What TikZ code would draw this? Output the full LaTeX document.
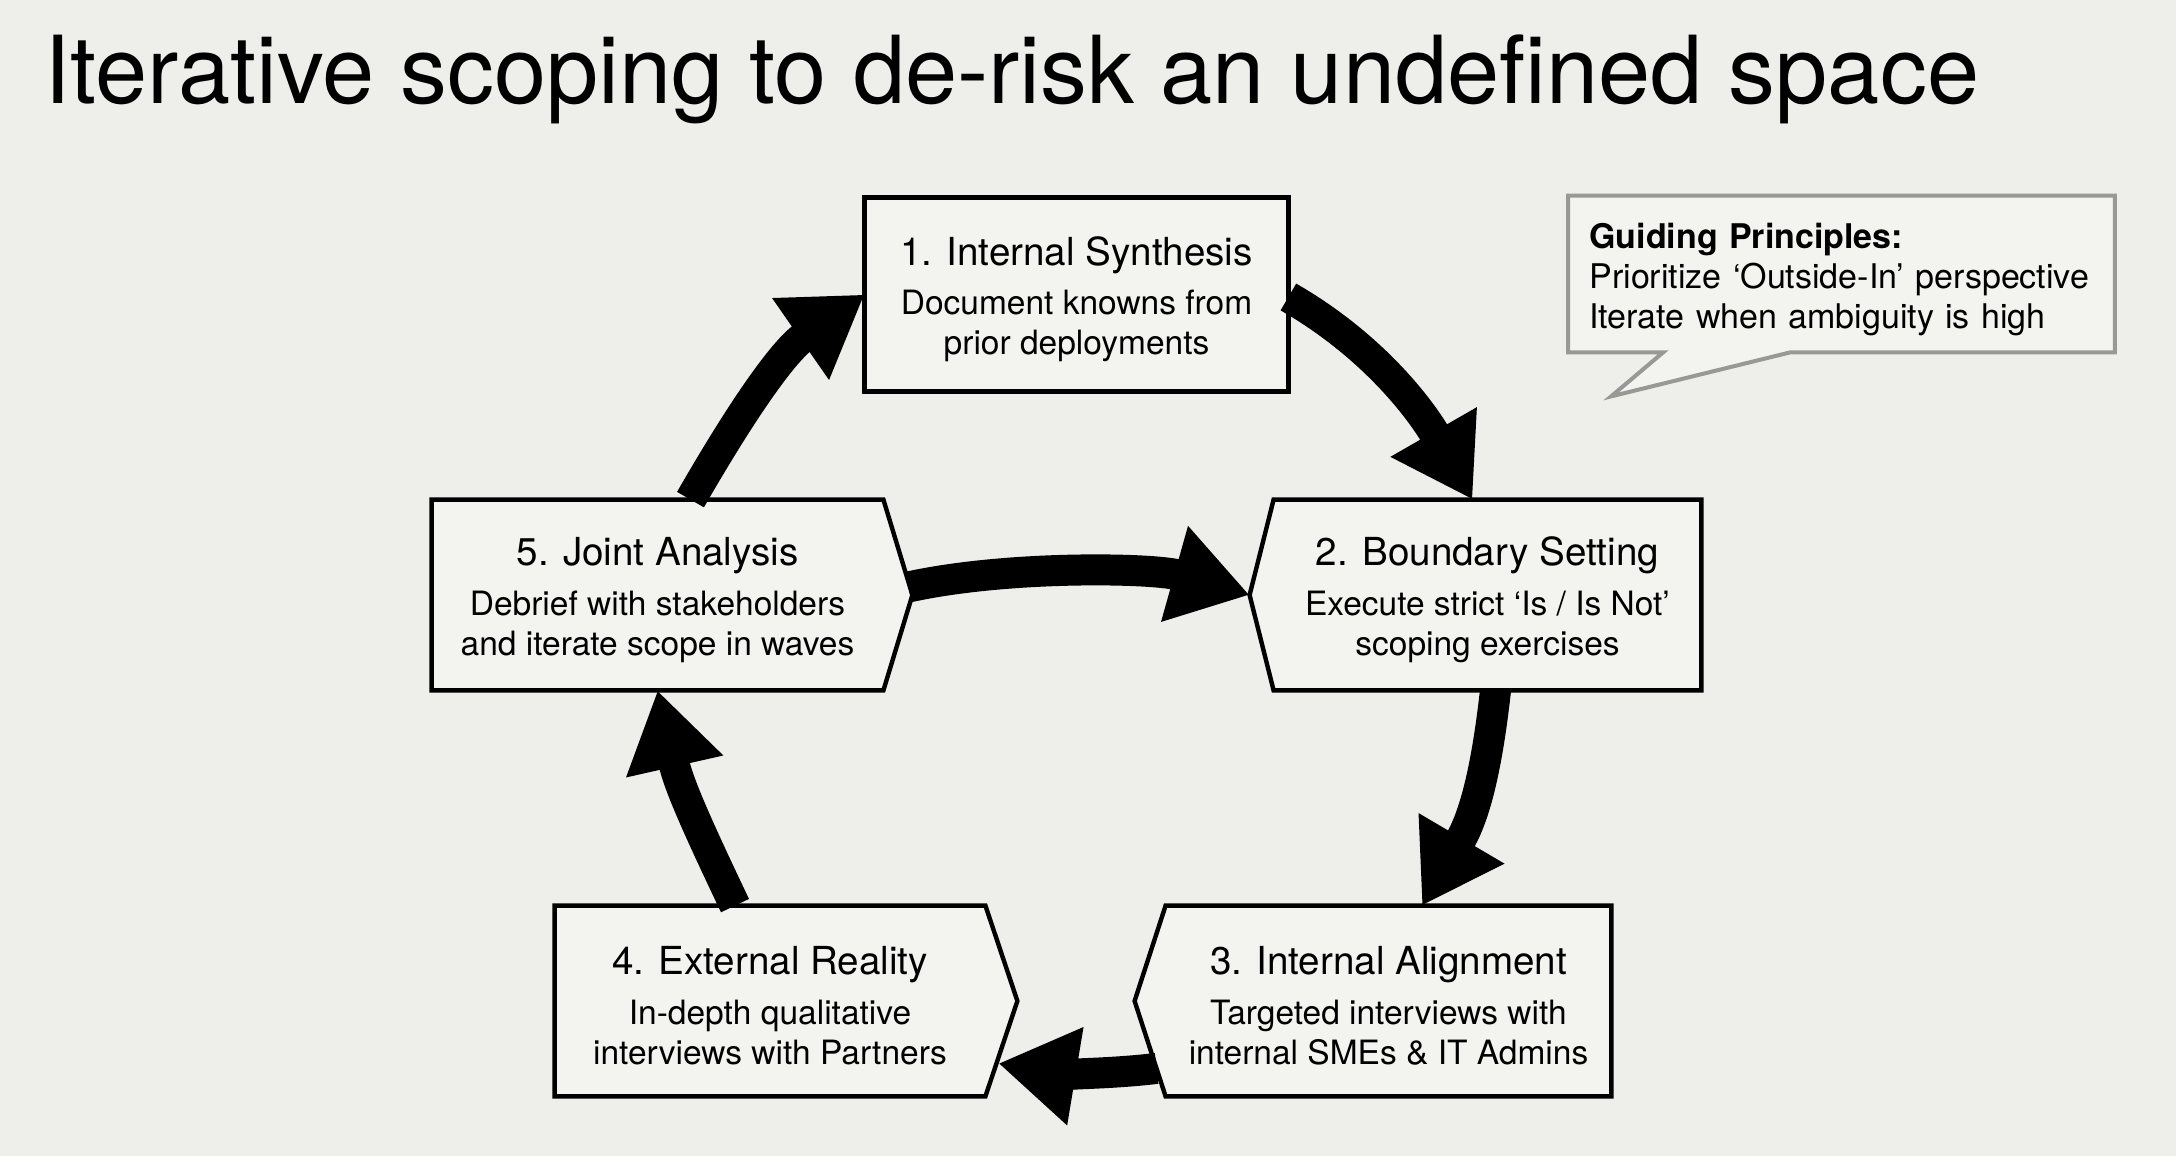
\documentclass[tikz,border=0pt]{standalone}
\usepackage{fontspec}
\setmainfont{TeX Gyre Heros}
\usepackage{tikz}
\usetikzlibrary{arrows.meta, positioning, calc, backgrounds}
\usepackage{xcolor}

\definecolor{pagebg}{RGB}{238,238,234}
\definecolor{boxbg}{RGB}{243,243,240}
\definecolor{notegray}{RGB}{152,152,150}

\newcommand{\steptitle}[1]{{\fontsize{19.3pt}{20pt}\selectfont\rule{0pt}{19pt}#1}}

\begin{document}
\begin{tikzpicture}[x=0.5pt, y=-0.5pt,
    stepbox/.style={rectangle, inner sep=0pt, minimum width=#1, minimum height=95pt,
        align=center, font=\fontsize{16.75pt}{20pt}\selectfont},
    outline/.style={draw=black, line width=2.2pt, fill=boxbg, line join=miter},
    flow/.style={line width=15.5pt, -{Triangle[width=47pt, length=39pt]}}
  ]
    % Page
    \useasboundingbox (0,0) rectangle (2176,1156);
    \begin{pgfonlayer}{background}
      \fill[pagebg] (0,0) rectangle (2176,1156);
    \end{pgfonlayer}

    % Title
    \node[anchor=base west, inner sep=0pt, font=\fontsize{46.9pt}{50pt}\selectfont] (title) at (44,104)
      {Iterative scoping to de-risk an undefined space};

    % Steps
    \node[stepbox=211.5pt, minimum height=96.5pt] (b1) at (1076.5,294.5)
      {\steptitle{1. Internal Synthesis}\\[4.8pt] Document knowns from\\ prior deployments};
    \node[stepbox=213.5pt] (b2) at (1487.5,595)
      {\steptitle{2. Boundary Setting}\\[4.8pt] Execute strict ‘Is / Is Not’\\ scoping exercises};
    \node[stepbox=222.5pt] (b3) at (1388.5,1001)
      {\steptitle{3. Internal Alignment}\\[4.8pt] Targeted interviews with\\ internal SMEs \& IT Admins};
    \node[stepbox=215pt] (b4) at (770,1001)
      {\steptitle{4. External Reality}\\[4.8pt] In-depth qualitative\\ interviews with Partners};
    \node[stepbox=225.5pt] (b5) at (657.5,595)
      {\steptitle{5. Joint Analysis}\\[4.8pt] Debrief with stakeholders\\ and iterate scope in waves};

    % Guiding principles
    \node[rectangle, inner xsep=10.5pt, inner ysep=0pt, text width=252pt, minimum height=78pt,
      align=left, font=\fontsize{17pt}{20pt}\selectfont] (note) at (1841.5,274)
      {\rule{0pt}{18pt}{\bfseries Guiding Principles:}\\ Prioritize ‘Outside-In’ perspective\\ Iterate when ambiguity is high};

    % Outlines
    \begin{pgfonlayer}{background}
      \draw[outline] (b1.north west) rectangle (b1.south east);
      \draw[outline] (b2.north west) -- (b2.north east) -- (b2.south east) -- (b2.south west)
        -- ([xshift=-12pt]b2.west) -- cycle;
      \draw[outline] (b3.north west) -- (b3.north east) -- (b3.south east) -- (b3.south west)
        -- ([xshift=-15.5pt]b3.west) -- cycle;
      \draw[outline] (b4.north west) -- (b4.north east) -- ([xshift=16pt]b4.east)
        -- (b4.south east) -- (b4.south west) -- cycle;
      \draw[outline] (b5.north west) -- (b5.north east) -- ([xshift=14.5pt]b5.east)
        -- (b5.south east) -- (b5.south west) -- cycle;
      \draw[draw=notegray, line width=2pt, fill=boxbg, line join=miter]
        (note.north west) -- (note.north east) -- (note.south east)
        -- ($(note.south west)+(222,0)$) -- ($(note.south west)+(43,44)$)
        -- ($(note.south west)+(95,0)$) -- (note.south west) -- cycle;
    \end{pgfonlayer}

    % Cycle arrows
    \draw[flow] ([yshift=-1.25pt]b1.east) .. controls +(87,50) and +(-50,-87) .. ([xshift=-7.5pt]b2.north);
    \draw[flow] ([xshift=4pt]b2.south) .. controls +(-10,90) and +(50,-85) .. ([xshift=16.75pt]b3.north);
    \draw[flow] ([shift={(-4.5pt,14pt)}]b3.south west) .. controls +(-50,6) and +(60,10)
      .. ([shift={(6.5pt,16.5pt)}]b4.south east);
    \draw[flow] ([xshift=-17.5pt]b4.north) .. controls +(-41,-86) and +(21,93) .. (b5.south);
    \draw[flow] ([xshift=16.5pt]b5.north) .. controls +(50,-87) and +(-82,57) .. (b1.west);
    \draw[flow] ([shift={(12.5pt,4pt)}]b5.east) .. controls +(100,-22) and +(-96,-27) .. ([xshift=-12pt]b2.west);
\end{tikzpicture}
\end{document}
